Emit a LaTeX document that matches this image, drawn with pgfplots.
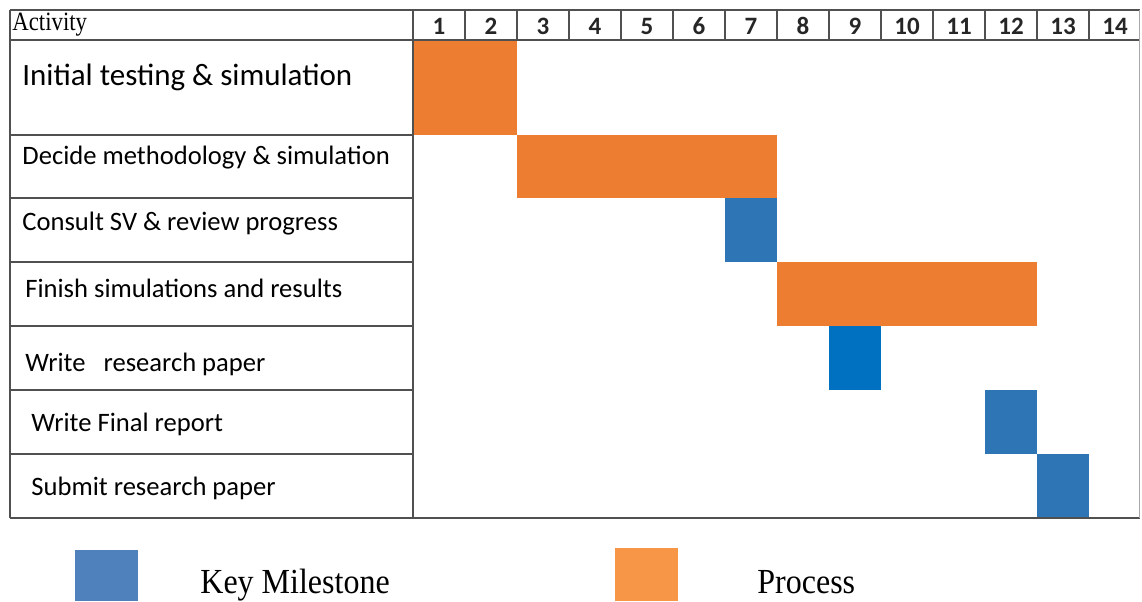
\documentclass[border=0pt]{standalone}
\usepackage{pgfplots}
\pgfplotsset{compat=1.18}
\usepackage{fontspec}
\setmainfont{Carlito}
\newfontfamily\tnr{Liberation Serif}
\definecolor{proc}{HTML}{ED7D31}
\definecolor{mile}{HTML}{2E75B6}
\definecolor{mileb}{HTML}{0070C0}
\definecolor{legb}{HTML}{4F81BD}
\definecolor{lego}{HTML}{F79646}
\definecolor{gridc}{HTML}{505050}
\begin{document}
\begin{tikzpicture}
\begin{axis}[scale only axis, width=571pt, height=300.5pt,
  xmin=-7.9423, xmax=14.0192, ymin=0, ymax=601, y dir=reverse,
  hide axis, clip=false]
% activity bars: x = week boundaries, y = row extent (px rows)
\addplot[fill=proc, draw=none] coordinates {(0,40) (2,40) (2,135) (0,135)};
\addplot[fill=proc, draw=none] coordinates {(2,135) (7,135) (7,198) (2,198)};
\addplot[fill=mile, draw=none] coordinates {(6,198) (7,198) (7,262) (6,262)};
\addplot[fill=proc, draw=none] coordinates {(7,262) (12,262) (12,326) (7,326)};
\addplot[fill=mileb, draw=none] coordinates {(8,326) (9,326) (9,390) (8,390)};
\addplot[fill=mile, draw=none] coordinates {(11,390) (12,390) (12,454) (11,454)};
\addplot[fill=mile, draw=none] coordinates {(12,454) (13,454) (13,518) (12,518)};
% legend swatches
\addplot[fill=legb, draw=none] coordinates {(-6.5,550) (-5.288,550) (-5.288,601) (-6.5,601)};
\addplot[fill=lego, draw=none] coordinates {(3.885,548) (5.096,548) (5.096,601) (3.885,601)};
% table rules
\draw[gridc, line width=1pt] (axis cs:-7.75,10) -- (axis cs:13.98,10);
\draw[gridc, line width=1.3pt] (axis cs:-7.75,40) -- (axis cs:13.98,40);
\draw[gridc, line width=1pt] (axis cs:-7.75,518) -- (axis cs:13.98,518);
\draw[gridc, line width=1pt] (axis cs:-7.75,10) -- (axis cs:-7.75,518);
\draw[gridc, line width=1pt] (axis cs:0,10) -- (axis cs:0,518);
\draw[gridc!50, line width=0.5pt] (axis cs:13.98,10) -- (axis cs:13.98,518);
\pgfplotsinvokeforeach{1,...,13}{\draw[gridc, line width=1pt] (axis cs:#1,10) -- (axis cs:#1,40);}
\pgfplotsinvokeforeach{135,198,262,326,390,454}{\draw[gridc, line width=1pt] (axis cs:-7.75,#1) -- (axis cs:0,#1);}
% header
\node[anchor=west, font=\tnr\fontsize{12}{14}\selectfont, inner sep=0pt] at (axis cs:-7.712,25) {\scalebox{0.95}[1.1]{Activity}};
\pgfplotsinvokeforeach{1,...,14}{\node[font=\fontsize{12.5}{14}\selectfont, text=black!85] at (axis cs:#1-0.5,26) {\textbf{#1}};}
% activity labels
\node[anchor=west, inner sep=0pt, font=\fontsize{15.5}{18}\selectfont] at (axis cs:-7.519,77) {Initial testing \& simulation};
\node[anchor=west, inner sep=0pt, font=\fontsize{13.3}{16}\selectfont] at (axis cs:-7.519,158) {Decide methodology \& simulation};
\node[anchor=west, inner sep=0pt, font=\fontsize{13.3}{16}\selectfont] at (axis cs:-7.519,224) {Consult SV \& review progress};
\node[anchor=west, inner sep=0pt, font=\fontsize{13.3}{16}\selectfont] at (axis cs:-7.462,288) {Finish simulations and results};
\node[anchor=west, inner sep=0pt, font=\fontsize{13.3}{16}\selectfont] at (axis cs:-7.462,364) {Write\ \ \ research paper};
\node[anchor=west, inner sep=0pt, font=\fontsize{13.3}{16}\selectfont] at (axis cs:-7.346,424) {Write Final report};
\node[anchor=west, inner sep=0pt, font=\fontsize{13.3}{16}\selectfont] at (axis cs:-7.346,488) {Submit research paper};
% legend text
\node[anchor=base west, inner sep=0pt, font=\tnr\fontsize{16}{18}\selectfont] at (axis cs:-4.096,593) {\scalebox{1}[1.1]{Key Milestone}};
\node[anchor=base west, inner sep=0pt, font=\tnr\fontsize{16}{18}\selectfont] at (axis cs:6.615,593) {\scalebox{1}[1.1]{Process}};
\end{axis}
\pgfresetboundingbox
\path (0,0) rectangle (571pt,300.5pt);
\end{tikzpicture}
\end{document}
